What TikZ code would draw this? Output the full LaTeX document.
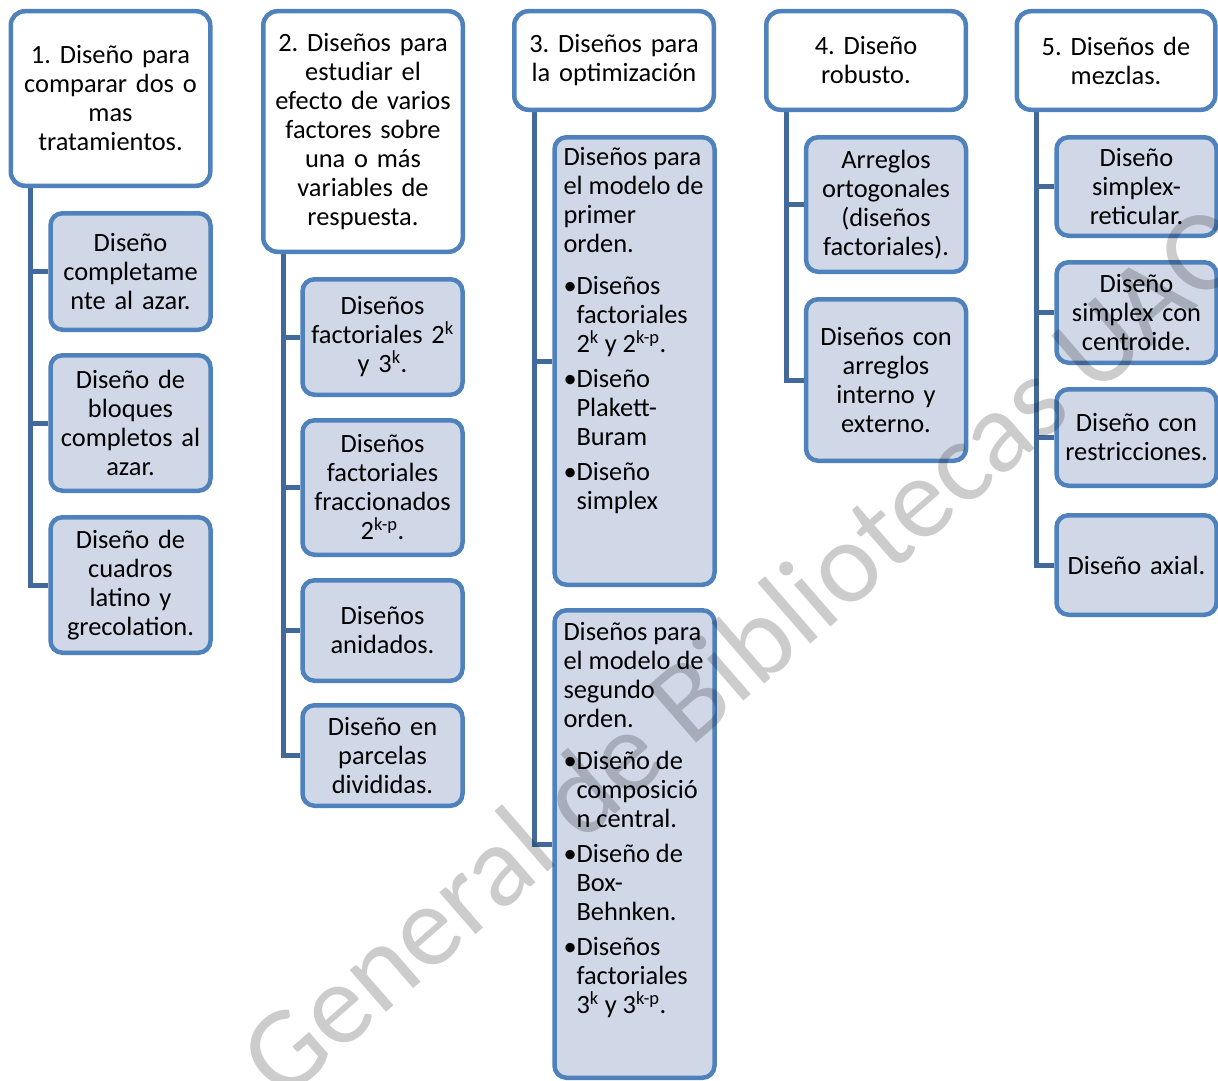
\documentclass[tikz,border=0pt]{standalone}
\usepackage{fontspec}
\setmainfont{Carlito}
\usetikzlibrary{positioning,calc,backgrounds}

\definecolor{boxline}{HTML}{4F81BD}
\definecolor{boxfill}{HTML}{D0D8E8}
\definecolor{connline}{HTML}{41699B}

\frenchspacing
\newcommand{\diafont}{\fontsize{26.4}{29}\selectfont}
\newcommand{\vineta}[1]{\par\vspace{6pt}\hangindent=13pt\hangafter=1\noindent\makebox[13pt][l]{\textbullet}#1}

\begin{document}
\begin{tikzpicture}[x=1pt, y=-1pt,
    topbox/.style={draw=boxline, line width=4.5pt, fill=white, rounded corners=14pt, minimum width=199.5pt, text width=192pt, inner sep=3pt, align=center, font=\diafont},
    subbox/.style={draw=boxline, line width=4.5pt, fill=boxfill, rounded corners=12pt, minimum width=160pt, text width=153pt, inner sep=3pt, align=center, font=\diafont},
    listbox/.style={draw=boxline, line width=4.5pt, fill=boxfill, rounded corners=12pt, inner xsep=9pt, inner ysep=3pt, font=\diafont},
    conn/.style={draw=connline, line width=5pt},
    marca/.style={text=black, opacity=0.2, font=\fontsize{116}{124}\selectfont}]
    \useasboundingbox (0,0) rectangle (1218,1081);
    \clip (0,0) rectangle (1218,1081);

    % Column 1
    \node[topbox, minimum height=174.5pt] (t1) at (110.5,98.5) {1. Diseño para\\comparar dos o\\mas\\tratamientos.};
    \node[subbox, minimum height=116.5pt] (c1a) at (130.5,271.5) {Diseño\\completame\\nte al azar.};
    \node[subbox, minimum height=135.5pt] (c1b) at (130.5,423) {Diseño de\\bloques\\completos al\\azar.};
    \node[subbox, minimum height=135.5pt] (c1c) at (130.5,585) {Diseño de\\cuadros\\latino y\\grecolation.};

    % Column 2
    \node[topbox, minimum height=240.5pt] (t2) at (363,131.5) {2. Diseños para\\estudiar el\\efecto de varios\\factores sobre\\una o más\\variables de\\respuesta.};
    \node[subbox, minimum height=115.5pt] (c2a) at (382.5,337) {Diseños\\factoriales 2\textsuperscript{k}\\y 3\textsuperscript{k}.};
    \node[subbox, minimum height=134.5pt] (c2b) at (382.5,487.5) {Diseños\\factoriales\\fraccionados\\2\textsuperscript{k-p}.};
    \node[subbox, minimum height=100.5pt] (c2c) at (382.5,630.5) {Diseños\\anidados.};
    \node[subbox, minimum height=100.5pt] (c2d) at (382.5,755.5) {Diseño en\\parcelas\\divididas.};

    % Column 3
    \node[topbox, minimum height=98.5pt] (t3) at (614,60.5) {3. Diseños para\\la optimización};
    \node[listbox] (c3a) at (634.5,361) {\parbox[c][441.5pt][t]{142pt}{\raggedright\vspace*{7.5pt}%
        Diseños para\newline el modelo de\newline primer\newline orden.\par\vspace{7pt}%
        \vineta{Diseños\newline factoriales\newline 2\textsuperscript{k} y 2\textsuperscript{k-p}.}%
        \vineta{Diseño\newline Plakett-\newline Buram}%
        \vineta{Diseño\newline simplex}}};
    \node[listbox] (c3b) at (634.5,844) {\parbox[c][461.5pt][t]{142pt}{\raggedright\vspace*{9pt}%
        Diseños para\newline el modelo de\newline segundo\newline orden.\par\vspace{7pt}%
        \vineta{Diseño de\newline composició\newline n central.}%
        \vineta{Diseño de\newline Box-\newline Behnken.}%
        \vineta{Diseños\newline factoriales\newline 3\textsuperscript{k} y 3\textsuperscript{k-p}.}}};

    % Column 4
    \node[topbox, minimum height=98.5pt] (t4) at (866,60.5) {4. Diseño\\robusto.};
    \node[subbox, minimum height=134.5pt] (c4a) at (886,204.5) {Arreglos\\ortogonales\\(diseños\\factoriales).};
    \node[subbox, minimum height=161.5pt] (c4b) at (886,380) {Diseños con\\arreglos\\interno y\\externo.};

    % Column 5
    \node[topbox, minimum height=98.5pt, minimum width=198.5pt] (t5) at (1116,60.5) {5. Diseños de\\mezclas.};
    \node[subbox, minimum height=98.5pt] (c5a) at (1136.5,186.5) {Diseño\\simplex-\\reticular.};
    \node[subbox, minimum height=100.5pt] (c5b) at (1136.5,312.5) {Diseño\\simplex con\\centroide.};
    \node[subbox, minimum height=96.5pt] (c5c) at (1136.5,437.5) {Diseño con\\restricciones.};
    \node[subbox, minimum height=99.5pt] (c5d) at (1136.5,565) {Diseño axial.};

    % Connections
    \begin{scope}[on background layer]
        \foreach \t in {1,...,5} {
            \coordinate (sp\t) at ([xshift=22pt]t\t.south west);
        }
        \foreach \c in {c1a,c1b,c1c} {\draw[conn] (sp1) |- (\c.west);}
        \foreach \c in {c2a,c2b,c2c,c2d} {\draw[conn] (sp2) |- (\c.west);}
        \foreach \c in {c3a,c3b} {\draw[conn] (sp3) |- (\c.west);}
        \foreach \c in {c4a,c4b} {\draw[conn] (sp4) |- (\c.west);}
        \foreach \c in {c5a,c5b,c5c,c5d} {\draw[conn] (sp5) |- (\c.west);}
    \end{scope}

    % Watermark
    \node[marca, rotate=41] (sello) at (572,808) {Dirección General de Bibliotecas UAQ};
\end{tikzpicture}
\end{document}
